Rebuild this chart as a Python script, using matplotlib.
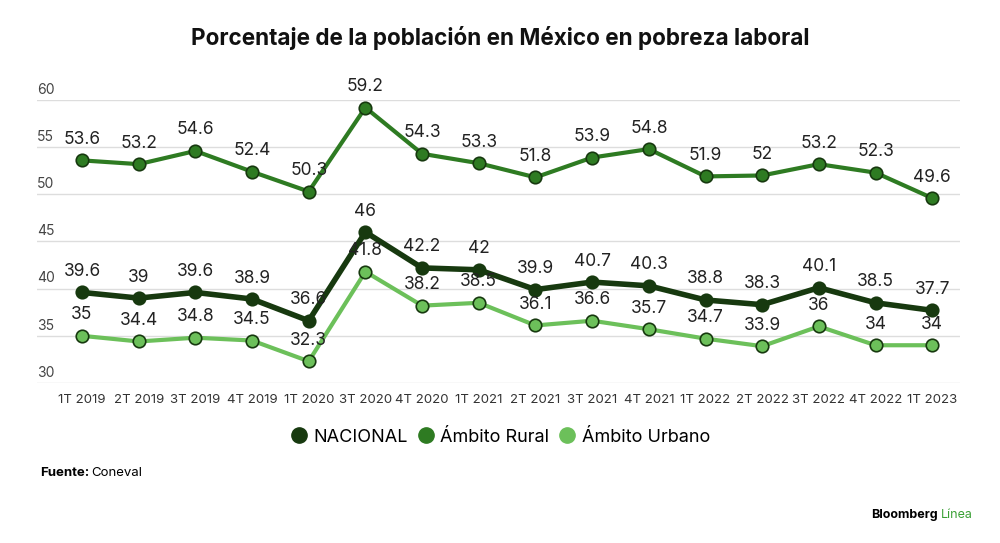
import matplotlib.pyplot as plt
from matplotlib.lines import Line2D

# datos
trimestres = ["1T 2019", "2T 2019", "3T 2019", "4T 2019", "1T 2020", "3T 2020", "4T 2020",
              "1T 2021", "2T 2021", "3T 2021", "4T 2021", "1T 2022", "2T 2022", "3T 2022",
              "4T 2022", "1T 2023"]
nacional = [39.6, 39, 39.6, 38.9, 36.6, 46, 42.2, 42, 39.9, 40.7, 40.3, 38.8, 38.3, 40.1, 38.5, 37.7]
rural = [53.6, 53.2, 54.6, 52.4, 50.3, 59.2, 54.3, 53.3, 51.8, 53.9, 54.8, 51.9, 52, 53.2, 52.3, 49.6]
urbano = [35, 34.4, 34.8, 34.5, 32.3, 41.8, 38.2, 38.5, 36.1, 36.6, 35.7, 34.7, 33.9, 36, 34, 34]
yticks = [30, 35, 40, 45, 50, 55, 60]

c_nac = "#17390f"
c_rur = "#2e7b22"
c_urb = "#6cc05a"

plt.rcParams['font.family'] = ['Inter', 'DejaVu Sans']

fig = plt.figure(figsize=(10, 5.43), dpi=100)
ax = fig.add_axes([0.037, 0.2947, 0.923, 0.5211])

x = list(range(len(trimestres)))
series = [(nacional, c_nac, 4.0), (rural, c_rur, 3.0), (urbano, c_urb, 3.0)]
for vals, col, lw in series:
    ax.plot(x, vals, color=col, lw=lw, zorder=3, clip_on=False)
    ax.plot(x, vals, 'o', ms=9, mfc=col, mec=c_nac, mew=1.2, zorder=4, clip_on=False)
    for xi, v in zip(x, vals):
        ax.annotate(f"{v:g}", (xi, v), xytext=(0, 9), textcoords="offset points",
                    ha="center", va="bottom", fontsize=12.5, color="#222222", zorder=5)

ax.set_ylim(30, 60)
ax.set_xlim(-0.794, 15.49)
ax.set_yticks(yticks)
ax.set_yticklabels([])
for t in yticks:
    ax.axhline(t, color="#dddddd", lw=1, zorder=1)
    ax.text(0.0, t + 0.35, str(t), transform=ax.get_yaxis_transform(), ha="left", va="bottom",
            fontsize=10, color="#444444")
ax.set_xticks(x)
ax.set_xticklabels(trimestres, fontsize=9.5, color="#333333")
ax.tick_params(length=0, pad=8)
for s in ax.spines.values():
    s.set_visible(False)

fig.text(0.5, 0.93, "Porcentaje de la población en México en pobreza laboral", ha="center",
         va="center", fontsize=16.2, fontweight="bold", color="#111111")

handles = [Line2D([], [], ls="none", marker="o", ms=11, color=c) for c in (c_nac, c_rur, c_urb)]
fig.legend(handles, ["NACIONAL", "Ámbito Rural", "Ámbito Urbano"], loc="center",
           bbox_to_anchor=(0.5, 0.195), ncol=3, frameon=False, fontsize=13,
           handletextpad=0.3, columnspacing=0.5, handlelength=1.0)

fig.text(0.04, 0.128, "Fuente:", fontsize=9.5, fontweight="bold", va="center")
fig.text(0.091, 0.128, "Coneval", fontsize=9.5, va="center")
fig.text(0.938, 0.051, "Bloomberg", fontsize=9, fontweight="bold", ha="right", va="center")
fig.text(0.941, 0.051, "Línea", fontsize=9, color="#3aa035", ha="left", va="center")

fig.savefig("out.png", dpi=100, facecolor="white")
